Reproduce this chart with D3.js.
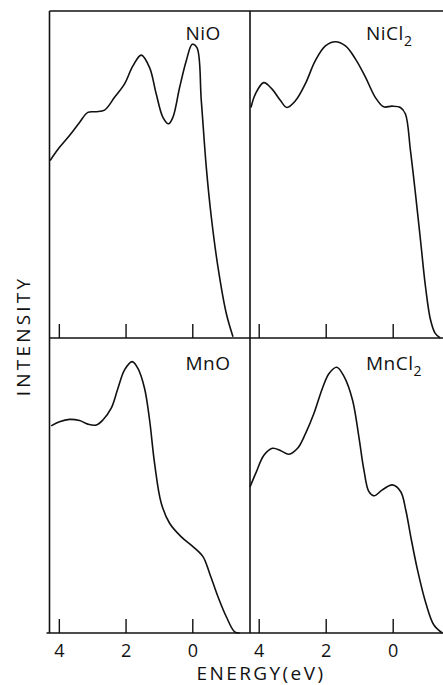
<!DOCTYPE html>
<html>
<head>
<meta charset="utf-8">
<script src="https://cdnjs.cloudflare.com/ajax/libs/d3/7.8.5/d3.min.js"></script>
<style>
    body { margin: 0; background: #fff; }
    svg { display: block; }
    text { font-family: "Open Sans", sans-serif; font-weight: 400; fill: #111; }
</style>
</head>
<body>
<svg id="chart" width="443" height="685"></svg>
<script>
(() => {
    'use strict';

    // energy (eV, decreasing to the right) and intensity (0-100, arbitrary)
    const nioEnergy = [4.26, 3.98, 3.68, 3.38, 3.13, 2.88, 2.63, 2.33, 2.03, 1.78, 1.53, 1.28, 1.08, 0.88, 0.71, 0.58, 0.38, 0.18, 0.0, -0.14, -0.27, -0.42, -0.57, -0.77, -1.02, -1.22];
    const nioIntensity = [54.3, 58.3, 61.9, 65.9, 69.0, 69.2, 69.7, 73.6, 77.7, 83.2, 86.5, 82.7, 74.6, 67.5, 65.5, 67.5, 76.6, 84.8, 89.8, 88.8, 72.6, 52.2, 37.0, 21.7, 7.5, 0.4];

    const niclEnergy = [4.23, 4.10, 3.85, 3.60, 3.35, 3.16, 2.90, 2.61, 2.31, 2.01, 1.71, 1.41, 1.11, 0.81, 0.52, 0.27, 0.02, -0.23, -0.38, -0.53, -0.68, -0.83, -0.98, -1.13, -1.27, -1.42];
    const niclIntensity = [70.5, 74.6, 78.1, 76.1, 72.6, 70.5, 72.6, 77.7, 84.8, 89.3, 90.6, 89.3, 85.3, 79.7, 73.6, 70.7, 70.9, 70.5, 68.5, 57.3, 44.1, 29.9, 15.6, 5.5, 1.4, 0];

    const mnoEnergy = [4.23, 3.98, 3.68, 3.38, 3.13, 2.88, 2.68, 2.43, 2.23, 2.03, 1.80, 1.63, 1.43, 1.28, 1.13, 0.93, 0.68, 0.33, -0.02, -0.32, -0.52, -0.77, -1.02, -1.27, -1.42];
    const mnoIntensity = [70.2, 71.6, 72.4, 72.0, 70.8, 70.5, 72.2, 76.2, 82.9, 89.2, 92.0, 89.7, 82.9, 72.2, 57.5, 44.0, 37.2, 32.6, 29.3, 25.9, 20.2, 12.3, 5.5, 0.4, 0];

    const mnclEnergy = [4.26, 4.09, 3.84, 3.59, 3.34, 3.10, 2.84, 2.60, 2.35, 2.10, 1.90, 1.67, 1.45, 1.20, 1.01, 0.86, 0.71, 0.56, 0.31, 0.01, -0.24, -0.39, -0.54, -0.74, -0.99, -1.23, -1.48];
    const mnclIntensity = [49.5, 54.1, 60.3, 62.6, 61.8, 60.6, 62.6, 67.7, 74.5, 82.9, 88.0, 90.1, 86.9, 79.0, 66.5, 55.3, 47.9, 46.5, 48.5, 50.2, 47.9, 41.7, 32.6, 21.4, 10.1, 2.7, 0];

    const tickValues = [4, 2, 0];

    const panels = [
        { name: 'NiO', sub: '', energy: nioEnergy, intensity: nioIntensity, col: 0, row: 0 },
        { name: 'NiCl', sub: '2', energy: niclEnergy, intensity: niclIntensity, col: 1, row: 0 },
        { name: 'MnO', sub: '', energy: mnoEnergy, intensity: mnoIntensity, col: 0, row: 1 },
        { name: 'MnCl', sub: '2', energy: mnclEnergy, intensity: mnclIntensity, col: 1, row: 1 }
    ];

    const xScales = [
        d3.scaleLinear().domain([4.28, -1.73]).range([49.5, 250]),
        d3.scaleLinear().domain([4.26, -1.80]).range([250, 453])
    ];
    const yScales = [
        d3.scaleLinear().domain([0, 100]).range([338, 11]),
        d3.scaleLinear().domain([0, 100]).range([633, 338])
    ];

    const svg = d3.select('#chart');
    const ink = '#111';

    panels.forEach(p => {
        const x = xScales[p.col],
              y = yScales[p.row],
              g = svg.append('g');

        // inward ticks along the panel bottom
        const axis = d3.axisTop(x)
            .tickValues(tickValues)
            .tickSize(14)
            .tickFormat(p.row === 1 ? d3.format('d') : '');

        const ag = g.append('g')
            .attr('transform', 'translate(0,' + y(0) + ')')
            .call(axis);
        ag.select('.domain').remove();
        ag.selectAll('line').attr('stroke', ink).attr('stroke-width', 1.4);
        ag.selectAll('text')
            .attr('y', 24)
            .attr('dy', 0)
            .attr('font-size', 18)
            .style('font-family', '"Open Sans", sans-serif')
            .style('font-weight', 400)
            .attr('fill', ink);

        const data = p.energy.map((e, i) => [e, p.intensity[i]]);
        const line = d3.line()
            .x(d => x(d[0]))
            .y(d => y(d[1]))
            .curve(d3.curveCatmullRom.alpha(0.5));

        g.append('path')
            .datum(data)
            .attr('d', line)
            .attr('fill', 'none')
            .attr('stroke', ink)
            .attr('stroke-width', 1.6);

        const label = g.append('text')
            .attr('x', x.range()[0] + (p.col === 0 ? 136 : 116))
            .attr('y', y.range()[1] + (p.row === 0 ? 29 : 32))
            .attr('font-size', 19)
            .attr('letter-spacing', 0.5)
            .text(p.name);
        if (p.sub) {
            label.append('tspan')
                .attr('font-size', 14)
                .attr('dy', 6)
                .text(p.sub);
        }
    });

    // frame
    const frame = svg.append('g')
        .attr('stroke', ink)
        .attr('stroke-width', 1.6)
        .attr('fill', 'none');
    const xl = xScales[0].range()[0],
          xm = xScales[1].range()[0],
          xr = 443,
          yt = yScales[0].range()[1],
          ym = yScales[1].range()[1],
          yb = yScales[1].range()[0];

    frame.append('line').attr('x1', xl).attr('x2', xr).attr('y1', yt).attr('y2', yt);
    frame.append('line').attr('x1', xl).attr('x2', xr).attr('y1', ym).attr('y2', ym);
    frame.append('line').attr('x1', xl - 3).attr('x2', xr).attr('y1', yb).attr('y2', yb);
    frame.append('line').attr('x1', xl).attr('x2', xl).attr('y1', yt).attr('y2', yb);
    frame.append('line').attr('x1', xm).attr('x2', xm).attr('y1', yt).attr('y2', yb);

    // axis titles
    svg.append('text')
        .attr('x', 261)
        .attr('y', 680)
        .attr('text-anchor', 'middle')
        .attr('font-size', 19)
        .attr('letter-spacing', 2.4)
        .text('ENERGY(eV)');

    svg.append('text')
        .attr('transform', 'translate(30,336) rotate(-90)')
        .attr('text-anchor', 'middle')
        .attr('font-size', 19)
        .attr('letter-spacing', 3.2)
        .text('INTENSITY');
})();
</script>
</body>
</html>
